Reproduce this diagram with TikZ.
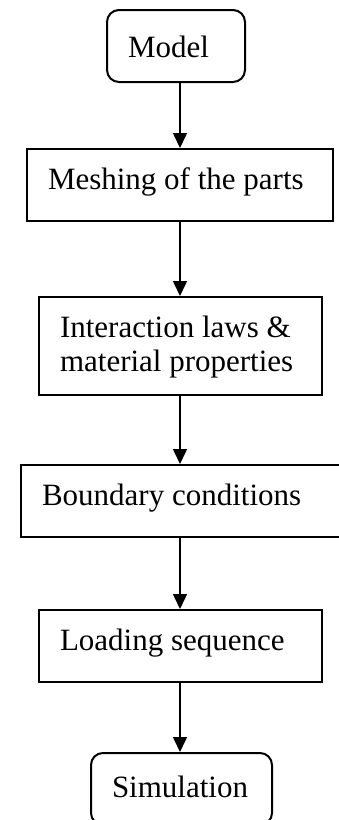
\documentclass[tikz,border=0pt]{standalone}
\usepackage{fontspec}
\setmainfont{Liberation Serif}
\usetikzlibrary{arrows.meta, positioning}

\tikzset{
	stepbox/.style={draw=black, line width=2pt, inner xsep=21pt, inner ysep=0pt,
		align=flush left, font=\fontsize{31}{34.3}\selectfont},
	endbox/.style={stepbox, rounded corners=12pt},
	flowarrow/.style={-{Triangle[width=14pt, length=15pt]}, line width=1.5pt}
}

\begin{document}
\begin{tikzpicture}[x=1pt, y=-1pt]
				\useasboundingbox (0,0) rectangle (338,820);
				% the boxes of the flow, top to bottom
				\node[endbox, minimum width=138pt, minimum height=72pt, text width=96pt,
				text height=25pt, text depth=3pt]
				(model) at (176, 46) {Model};
				\node[stepbox, minimum width=306pt, minimum height=72pt, text width=264pt,
				text height=22pt, text depth=14pt]
				(mesh) at (180, 185) {Meshing of the parts};
				\node[stepbox, minimum width=283pt, minimum height=98pt, text width=241pt,
				text height=22pt, text depth=40pt]
				(interact) at (180.5, 346) {Interaction laws \&\\material properties};
				% this one runs past the right edge of the picture
				\node[stepbox, minimum width=324pt, minimum height=72pt, text width=282pt,
				text height=22pt, text depth=14pt]
				(bound) at (183, 501) {Boundary conditions};
				\node[stepbox, minimum width=283pt, minimum height=72pt, text width=241pt,
				text height=22pt, text depth=14pt]
				(load) at (180.5, 646) {Loading sequence};
				% cut by the bottom edge
				\node[endbox, minimum width=181pt, minimum height=72pt, text width=139pt,
				text height=24pt, text depth=8pt]
				(simul) at (181.5, 789) {Simulation};
				% arrows run down one vertical line
				\coordinate (spine) at (180, 0);
				\draw[flowarrow] (model.south -| spine) -- (mesh.north -| spine);
				\draw[flowarrow] (mesh.south -| spine) -- (interact.north -| spine);
				\draw[flowarrow] (interact.south -| spine) -- (bound.north -| spine);
				\draw[flowarrow] (bound.south -| spine) -- (load.north -| spine);
				\draw[flowarrow] (load.south -| spine) -- (simul.north -| spine);
			\end{tikzpicture}
\end{document}
